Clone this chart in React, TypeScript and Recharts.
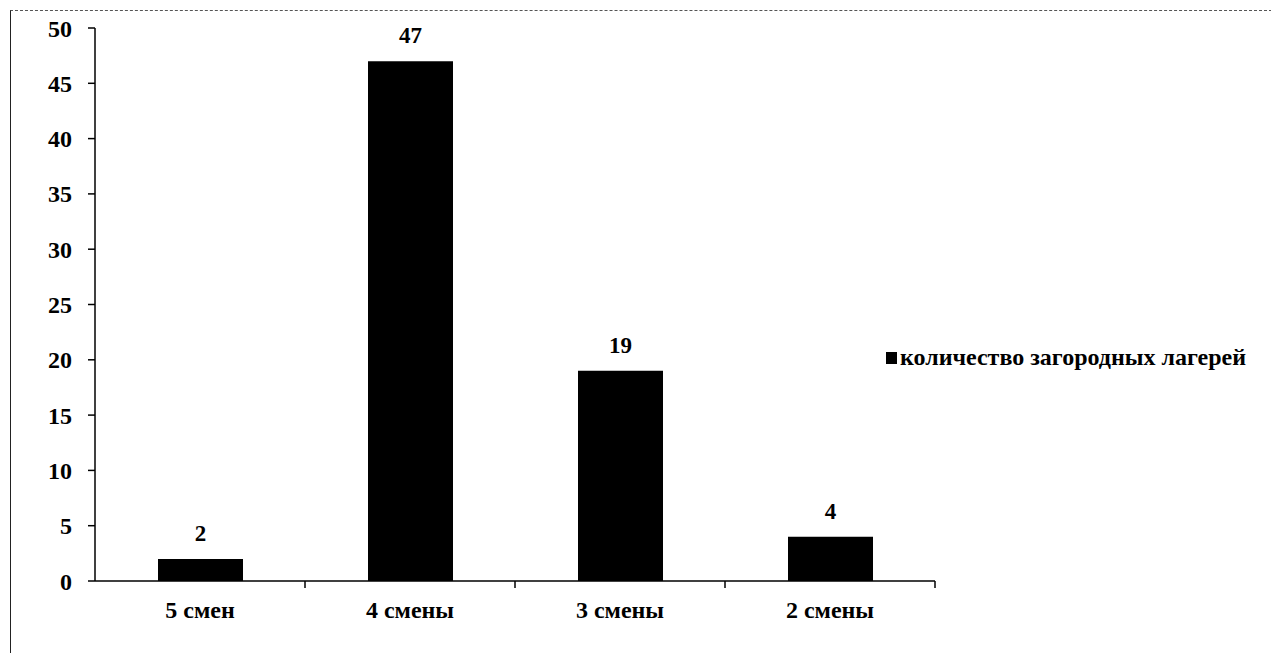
import { BarChart, Bar, XAxis, YAxis, LabelList } from "recharts";

const categories = ["5 смен", "4 смены", "3 смены", "2 смены"];
const camps = [2, 47, 19, 4];
const yTicks = [0, 5, 10, 15, 20, 25, 30, 35, 40, 45, 50];
const seriesName = "количество загородных лагерей";

const data = categories.map((name, i) => ({ name, camps: camps[i] }));

const W = 1271;
const H = 653;
const margin = { top: 28, right: 336, bottom: 0, left: 0 };
const xAxisHeight = 72;
const yAxisWidth = 95;
const band = (W - margin.left - margin.right - yAxisWidth) / categories.length;

const font = "'Liberation Serif', 'Times New Roman', serif";

// category ticks sit between bars, so the tick mark is drawn at the band's right edge
function CategoryTick(props: any) {
  const { x, y, payload } = props;
  return (
    <g>
      <line x1={x + band / 2} y1={y - 8} x2={x + band / 2} y2={y - 1} stroke="#000" strokeWidth={1.5} />
      <text
        x={x}
        y={y + 29}
        textAnchor="middle"
        fontFamily={font}
        fontWeight="bold"
        fontSize={24}
        fill="#000"
      >
        {payload.value}
      </text>
    </g>
  );
}

export default function App() {
  return (
    <div style={{ position: "absolute", left: 0, top: 0, width: W, height: H, background: "#fff" }}>
      <div
        style={{
          position: "absolute",
          left: 10,
          top: 10,
          width: W - 10,
          height: H - 10,
          borderLeft: "1.5px solid #222",
          borderTop: "1px dashed #555",
        }}
      />
      <BarChart width={W} height={H} data={data} margin={margin} barSize={85}>
        <XAxis
          dataKey="name"
          axisLine={{ stroke: "#000", strokeWidth: 1.5 }}
          tickLine={false}
          tick={<CategoryTick />}
          interval={0}
          height={xAxisHeight}
        />
        <YAxis
          width={yAxisWidth}
          domain={[0, 50]}
          ticks={yTicks}
          interval={0}
          axisLine={{ stroke: "#000", strokeWidth: 1.5 }}
          tickLine={{ stroke: "#000", strokeWidth: 1.5 }}
          tickSize={7}
          tickMargin={16}
          tick={{ fill: "#000", fontFamily: font, fontWeight: "bold", fontSize: 24 }}
        />
        <Bar dataKey="camps" name={seriesName} fill="#000" isAnimationActive={false}>
          <LabelList
            dataKey="camps"
            position="top"
            offset={18}
            fill="#000"
            fontFamily={font}
            fontWeight="bold"
            fontSize={23}
          />
        </Bar>
      </BarChart>
      <div
        style={{
          position: "absolute",
          left: 886,
          top: 344,
          display: "flex",
          alignItems: "center",
          fontFamily: font,
          fontWeight: "bold",
          fontSize: 24,
          color: "#000",
          whiteSpace: "nowrap",
        }}
      >
        <span style={{ display: "inline-block", width: 11, height: 12, background: "#000", marginRight: 3 }} />
        {seriesName}
      </div>
    </div>
  );
}
